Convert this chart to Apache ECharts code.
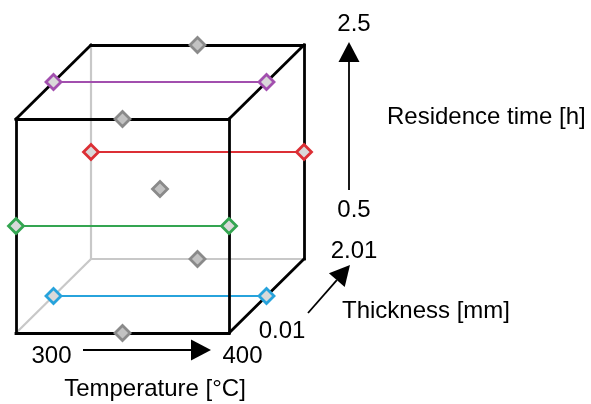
<!DOCTYPE html>
<html>
<head>
<meta charset="utf-8">
<script src="https://cdn.jsdelivr.net/npm/echarts@6/dist/echarts.min.js"></script>
<style>html,body{margin:0;padding:0;background:#fff}#chart{width:591px;height:404px}</style>
</head>
<body>
<div id="chart"></div>
<script>
// ---- data ----
const temperatureLevels = [300, 350, 400];
const thicknessLevels = [0.01, 1.01, 2.01];
const timeLevels = [0.5, 1.5, 2.5];
const purplePoints = [[300, 1.01, 2.5], [400, 1.01, 2.5]];
const redPoints = [[300, 2.01, 1.5], [400, 2.01, 1.5]];
const greenPoints = [[300, 0.01, 1.5], [400, 0.01, 1.5]];
const bluePoints = [[300, 1.01, 0.5], [400, 1.01, 0.5]];
const grayPoints = [[350, 2.01, 2.5], [350, 0.01, 2.5], [350, 1.01, 1.5], [350, 2.01, 0.5], [350, 0.01, 0.5]];
const temperatureTicks = ['300', '400'];
const thicknessTicks = ['0.01', '2.01'];
const timeTicks = ['0.5', '2.5'];
const axisNames = ['Temperature [°C]', 'Thickness [mm]', 'Residence time [h]'];

// ---- layout (oblique projection) ----
const ORIGIN = [16, 333];
const T_VEC = [213, 0];
const TH_VEC = [75, -74];
const TI_VEC = [0, -214];
function norm(v, arr) { return (v - arr[0]) / (arr[arr.length - 1] - arr[0]); }
function project(p) {
  const u = norm(p[0], temperatureLevels), v = norm(p[1], thicknessLevels), w = norm(p[2], timeLevels);
  return [ORIGIN[0] + u * T_VEC[0] + v * TH_VEC[0] + w * TI_VEC[0],
          ORIGIN[1] + u * T_VEC[1] + v * TH_VEC[1] + w * TI_VEC[1]];
}
const tMin = temperatureLevels[0], tMax = temperatureLevels[2];
const hMin = thicknessLevels[0], hMax = thicknessLevels[2];
const rMin = timeLevels[0], rMax = timeLevels[2];
const corners = [];
[tMin, tMax].forEach(a => [hMin, hMax].forEach(b => [rMin, rMax].forEach(c => corners.push([a, b, c]))));
const visibleEdges = [], hiddenEdges = [];
for (let i = 0; i < corners.length; i++) {
  for (let j = i + 1; j < corners.length; j++) {
    const a = corners[i], b = corners[j];
    let diff = 0; for (let k = 0; k < 3; k++) if (a[k] !== b[k]) diff++;
    if (diff !== 1) continue;
    const hiddenCorner = (c) => c[0] === tMin && c[1] === hMax && c[2] === rMin;
    const e = { coords: [project(a), project(b)] };
    (hiddenCorner(a) || hiddenCorner(b) ? hiddenEdges : visibleEdges).push(e);
  }
}
const FONT = 'Liberation Sans, Arial, sans-serif';
const COLORS = { purple: '#a24fae', red: '#dc2f35', green: '#34a551', blue: '#27a3dc', gray: '#8a8a8a' };

function pairLine(pts, color) {
  return { type: 'lines', coordinateSystem: 'cartesian2d', z: 3, silent: true,
    lineStyle: { color: color, width: 1.8, opacity: 1 },
    data: [{ coords: pts.map(project) }] };
}
function markers(pts, color, fill) {
  return { type: 'scatter', z: 6, symbol: 'diamond', symbolSize: 15, silent: true,
    itemStyle: { color: fill, borderColor: color, borderWidth: 2.8, opacity: 1 },
    data: pts.map(project) };
}
const arrows = [
  { from: [83, 350], to: [211, 350] },
  { from: [308, 313], to: [350, 265] },
  { from: [349, 190], to: [349, 42] }
];
const texts = [
  { text: temperatureTicks[0], x: 51.5, y: 356, align: 'center' },
  { text: temperatureTicks[1], x: 242.5, y: 356, align: 'center' },
  { text: axisNames[0], x: 155, y: 389, align: 'center' },
  { text: thicknessTicks[0], x: 282, y: 331, align: 'center' },
  { text: thicknessTicks[1], x: 354, y: 251, align: 'center' },
  { text: axisNames[1], x: 342, y: 311.5, align: 'left' },
  { text: timeTicks[0], x: 354, y: 210, align: 'center' },
  { text: timeTicks[1], x: 354, y: 24, align: 'center' },
  { text: axisNames[2], x: 387, y: 117, align: 'left' }
];

const chart = echarts.init(document.getElementById('chart'), null, { renderer: 'canvas' });
chart.setOption({
  animation: false,
  backgroundColor: '#ffffff',
  grid: { left: 0, right: 0, top: 0, bottom: 0 },
  xAxis: { type: 'value', min: 0, max: 591, show: false },
  yAxis: { type: 'value', min: 0, max: 404, inverse: true, show: false },
  series: [
    { type: 'lines', coordinateSystem: 'cartesian2d', z: 1, silent: true,
      lineStyle: { color: '#c8c8c8', width: 2.2, opacity: 1 }, data: hiddenEdges },
    pairLine(purplePoints, COLORS.purple),
    pairLine(redPoints, COLORS.red),
    pairLine(greenPoints, COLORS.green),
    pairLine(bluePoints, COLORS.blue),
    { type: 'lines', coordinateSystem: 'cartesian2d', z: 4, silent: true,
      lineStyle: { color: '#000000', width: 2.8, opacity: 1, cap: 'square' }, data: visibleEdges },
    markers(grayPoints, COLORS.gray, '#c2c2c2'),
    markers(purplePoints, COLORS.purple, '#d9d9d9'),
    markers(redPoints, COLORS.red, '#d9d9d9'),
    markers(greenPoints, COLORS.green, '#d9d9d9'),
    markers(bluePoints, COLORS.blue, '#d9d9d9'),
    { type: 'custom', z: 7, silent: true,
      data: arrows.map(a => [a.from[0], a.from[1], a.to[0], a.to[1]]),
      renderItem: function (params, api) {
        const p0 = api.coord([api.value(0), api.value(1)]);
        const p1 = api.coord([api.value(2), api.value(3)]);
        const dx = p1[0] - p0[0], dy = p1[1] - p0[1];
        const len = Math.sqrt(dx * dx + dy * dy);
        const ux = dx / len, uy = dy / len;
        const L = 20, W = 10.5;
        const bx = p1[0] - ux * L, by = p1[1] - uy * L;
        return { type: 'group', children: [
          { type: 'line', shape: { x1: p0[0], y1: p0[1], x2: bx, y2: by },
            style: { stroke: '#000', lineWidth: 1.8 } },
          { type: 'polygon', shape: { points: [[p1[0], p1[1]], [bx - uy * W, by + ux * W], [bx + uy * W, by - ux * W]] },
            style: { fill: '#000' } }
        ] };
      }
    }
  ],
  graphic: texts.map(t => ({ type: 'text', x: t.x, y: t.y, silent: true,
    style: { text: t.text, font: '24px ' + FONT, fill: '#000', align: t.align, verticalAlign: 'middle' } }))
});
</script>
</body>
</html>
